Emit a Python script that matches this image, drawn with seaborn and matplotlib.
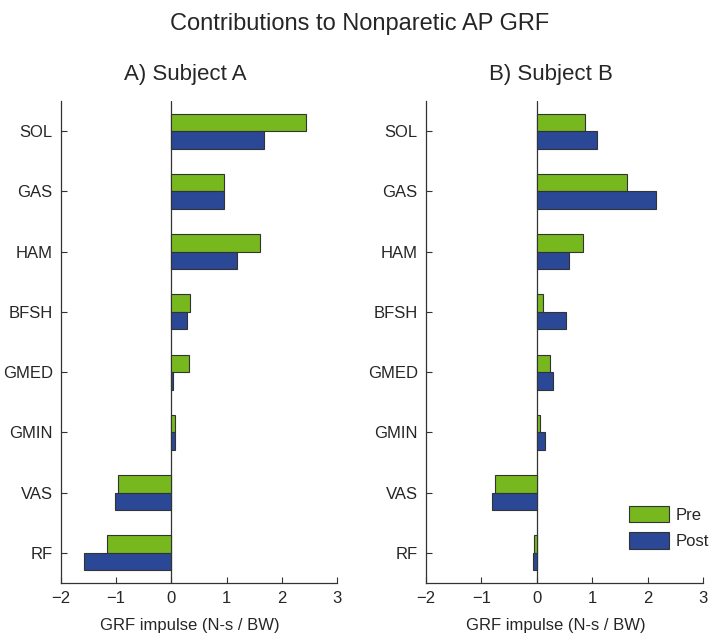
import pandas as pd
import numpy as np
import matplotlib
matplotlib.use('Agg')
import matplotlib.pyplot as plt
import seaborn as sns

# muscle contributions (N-s / BW)
muscles = ['SOL', 'GAS', 'HAM', 'BFSH', 'GMED', 'GMIN', 'VAS', 'RF']
conditions = ['Pre', 'Post']
subj_a_pre = [2.43, 0.95, 1.60, 0.34, 0.32, 0.06, -0.97, -1.16]
subj_a_post = [1.68, 0.95, 1.18, 0.29, 0.02, 0.06, -1.03, -1.59]
subj_b_pre = [0.87, 1.62, 0.83, 0.11, 0.23, 0.06, -0.75, -0.05]
subj_b_post = [1.08, 2.16, 0.58, 0.52, 0.29, 0.14, -0.81, -0.06]
xticks = [-2, -1, 0, 1, 2, 3]

pal = {'Pre': '#77b81f', 'Post': '#2b4897'}
edge = '#333333'


def long_frame(pre, post):
    df = pd.DataFrame({'muscle': muscles * 2,
                       'condition': ['Pre'] * len(muscles) + ['Post'] * len(muscles),
                       'impulse': list(pre) + list(post)})
    return df


sns.set_style('white')
plt.rcParams['font.family'] = ['Liberation Sans', 'DejaVu Sans']
plt.rcParams['axes.unicode_minus'] = True

fig = plt.figure(figsize=(7.14, 6.42), dpi=100)
ax_a = fig.add_axes([61 / 714, 59 / 642, 276 / 714, 482 / 642])
ax_b = fig.add_axes([426 / 714, 59 / 642, 277 / 714, 482 / 642])

panels = [(ax_a, long_frame(subj_a_pre, subj_a_post), 'A) Subject A'),
          (ax_b, long_frame(subj_b_pre, subj_b_post), 'B) Subject B')]

for ax, df, title in panels:
    sns.barplot(data=df, y='muscle', x='impulse', hue='condition',
                order=muscles, hue_order=conditions, palette=pal,
                orient='h', width=0.58, edgecolor=edge, linewidth=0.8,
                saturation=1, errorbar=None, ax=ax, legend=(ax is ax_b))
    ax.axvline(0, color=edge, lw=0.9, zorder=0.5)
    ax.set_xlim(-2, 3)
    ax.set_ylim(7.5, -0.5)
    ax.set_xticks(xticks)
    ax.set_xticklabels(['\u2212' + str(-t) if t < 0 else str(t) for t in xticks])
    ax.set_ylabel('')
    ax.set_xlabel('GRF impulse (N-s / BW)', fontsize=12)
    ax.xaxis.set_label_coords(0.467, -0.072)
    ax.set_title(title, fontsize=16, x=0.45, pad=15)
    ax.tick_params(direction='in', length=4, width=0.8, color=edge,
                   labelsize=12, pad=6, left=True, bottom=True)
    for s in ['top', 'right']:
        ax.spines[s].set_visible(False)
    for s in ['left', 'bottom']:
        ax.spines[s].set_color(edge)
        ax.spines[s].set_linewidth(0.9)

ax_b.legend(loc='upper left', bbox_to_anchor=(0.733, 0.16), frameon=False,
            fontsize=12, handlelength=2.4, handleheight=1.15,
            labelspacing=0.55, handletextpad=0.4, borderpad=0, borderaxespad=0)

fig.suptitle('Contributions to Nonparetic AP GRF', fontsize=17, x=0.503, y=0.98)

fig.savefig('out.png', dpi=100)
plt.close('all')
